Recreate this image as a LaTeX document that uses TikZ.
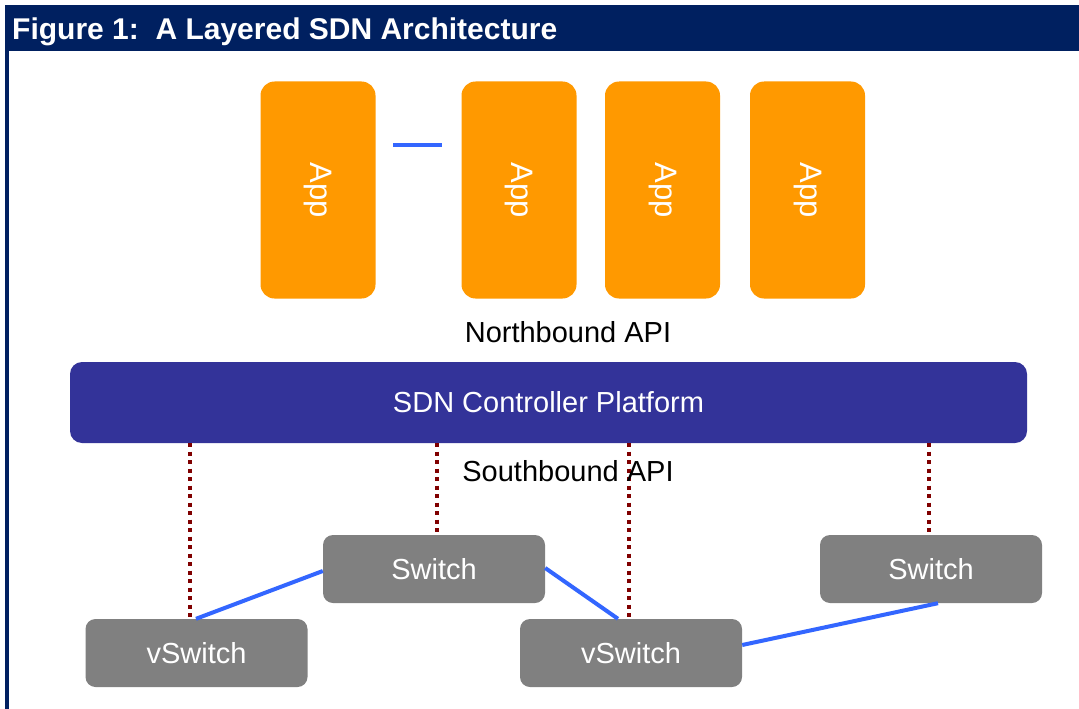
\documentclass[tikz,border=0pt]{standalone}
\usepackage{fontspec}
\setmainfont{Liberation Sans}
\definecolor{navy}{RGB}{0,32,96}
\definecolor{ctrlblue}{RGB}{51,51,153}
\definecolor{apporange}{RGB}{255,153,0}
\definecolor{swgray}{RGB}{128,128,128}
\definecolor{linkblue}{RGB}{51,102,255}
\definecolor{sbred}{RGB}{128,0,0}
\begin{document}
\begin{tikzpicture}[x=1pt,y=-1pt,
  appbox/.style={fill=apporange,rounded corners=14pt,minimum width=115pt,minimum height=217pt,inner sep=0pt},
  apptext/.style={text=white,font=\fontsize{31}{31}\selectfont,rotate=-90},
  swbox/.style={fill=swgray,rounded corners=10pt,minimum width=222pt,minimum height=68pt,inner sep=0pt,text=white,font=\fontsize{29}{29}\selectfont},
  link/.style={draw=linkblue,line width=4pt},
  sbline/.style={draw=sbred,line width=4pt,dash pattern=on 4pt off 4.5pt},
  lbl/.style={font=\fontsize{29}{29}\selectfont,text=black}]
\useasboundingbox (0,0) rectangle (1079,709);
\fill[white] (0,0) rectangle (1079,709);
% frame
\fill[navy] (5,5) rectangle (1079,51);
\fill[navy] (5,5) rectangle (9,709);
\node[anchor=base west,text=white,font=\fontsize{30}{30}\selectfont\bfseries,inner sep=0pt] (title) at (12,40) {Figure 1:\ \ A Layered SDN Architecture};
% apps
\node[appbox] (app1) at (318,190) {};
\node[appbox] (app2) at (519,190) {};
\node[appbox] (app3) at (662.5,190) {};
\node[appbox] (app4) at (807.5,190) {};
\node[apptext] (t1) at (app1) {App};
\node[apptext] (t2) at (app2) {App};
\node[apptext] (t3) at (app3) {App};
\node[apptext] (t4) at (app4) {App};
\coordinate (d1) at (393,145);
\coordinate (d2) at (442,145);
\draw[link] (d1) -- (d2);
% labels
\node[lbl] (nb) at (568,332) {Northbound API};
\node[fill=ctrlblue,rounded corners=12pt,minimum width=957pt,minimum height=81pt,inner sep=0pt,text=white,font=\fontsize{29}{29}\selectfont] (ctrl) at (548.5,402.5) {SDN Controller Platform};
% switches
\node[swbox] (sw1) at (434,569) {Switch};
\node[swbox] (vs1) at (196.5,653) {vSwitch};
\node[swbox] (vs2) at (631,653) {vSwitch};
\node[swbox] (sw2) at (931,569) {Switch};
% southbound
\coordinate (x1) at (190,0);
\coordinate (x2) at (437,0);
\coordinate (x3) at (629,0);
\coordinate (x4) at (929,0);
\draw[sbline] (ctrl.south -| x1) -- (vs1.north -| x1);
\draw[sbline] (ctrl.south -| x2) -- (sw1.north -| x2);
\draw[sbline] (ctrl.south -| x3) -- (vs2.north -| x3);
\draw[sbline] (ctrl.south -| x4) -- (sw2.north -| x4);
\node[lbl] (sb) at (568,471) {Southbound API};
% links
\coordinate (a1) at (196,619);
\coordinate (b1) at (323,571);
\draw[link] (vs1.north -| a1) -- (sw1.west |- b1);
\coordinate (a2) at (545,568);
\coordinate (b2) at (618,619);
\draw[link] (sw1.east |- a2) -- (vs2.north -| b2);
\coordinate (a3) at (742,645);
\coordinate (b3) at (938,603);
\draw[link] (vs2.east |- a3) -- (sw2.south -| b3);
\end{tikzpicture}
\end{document}
